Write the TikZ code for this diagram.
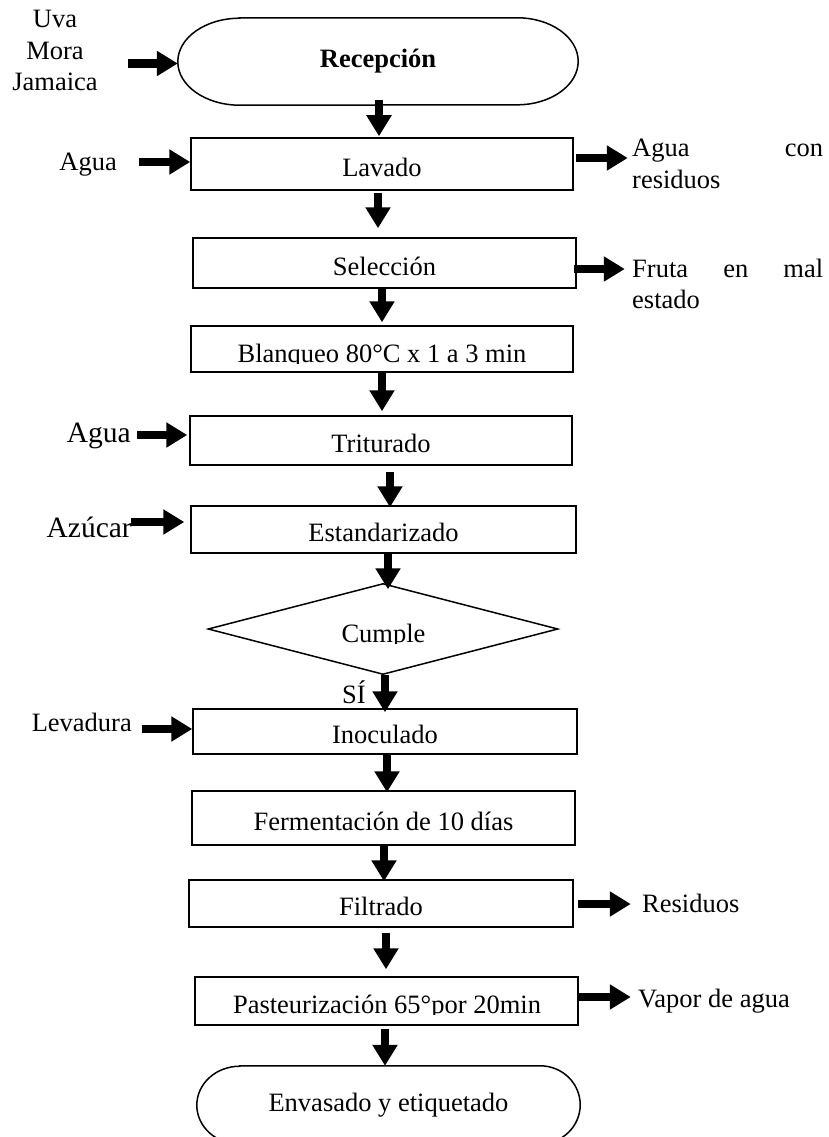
\documentclass[tikz,border=0pt]{standalone}
\usepackage{fontspec}
\setmainfont{Liberation Serif}
\usetikzlibrary{arrows.meta,shapes.geometric}
\begin{document}
\begin{tikzpicture}[x=1pt,y=-1pt,
  font=\fontsize{26.5}{31.5}\selectfont,
  box/.style 2 args={draw,line width=1.5pt,minimum width=#1,minimum height=#2,inner sep=0pt,text height=24pt,text depth=0pt},
  blk/.style={line width=8.5pt,-{Triangle[length=21pt,width=24pt]}},
  lbl/.style={inner sep=0pt},
  big/.style={font=\fontsize{29.5}{35}\selectfont}]
\useasboundingbox (0,0) rectangle (829,1137);
\clip (0,0) rectangle (829,1137);

% terminal: Recepcion
\node[minimum width=400pt,minimum height=87pt,inner sep=0pt] (recep) at (378,61.5) {\bfseries Recepción};
\draw[line width=1.5pt] ([xshift=62pt]recep.north west) -- ([xshift=-61pt]recep.north east)
  arc[start angle=90,end angle=-90,x radius=61pt,y radius=43.5pt]
  -- ([xshift=62pt]recep.south west)
  arc[start angle=270,end angle=90,x radius=62pt,y radius=43.5pt] -- cycle;

% process boxes
\node[box={382pt}{52pt}] (lav) at (382,164) {Lavado};
\node[box={383pt}{50pt}] (sel) at (384.5,263) {Selección};
\node[box={382pt}{46pt}] (bla) at (382,349) {};
\node[box={382pt}{49pt}] (tri) at (381,440.5) {Triturado};
\node[box={385pt}{47pt}] (est) at (383.5,529.5) {Estandarizado};
\node[draw,line width=1.5pt,diamond,minimum width=350pt,minimum height=91pt,inner sep=0pt] (dia) at (383,629) {};
\node[box={384pt}{45pt}] (ino) at (385,731.5) {Inoculado};
\node[box={383pt}{54pt}] (fer) at (383.5,818) {Fermentación de 10 días};
\node[box={384pt}{47pt}] (fil) at (381,903.5) {Filtrado};
\node[box={383pt}{48pt}] (pas) at (386.5,1001) {};

% texts clipped at their baseline, as printed
\begin{scope}
  \clip (0,300) rectangle (829,363);
  \node[lbl,anchor=base] (blaT) at (382,362) {Blanqueo 80°C x 1 a 3 min};
\end{scope}
\begin{scope}
  \clip (0,600) rectangle (829,643);
  \node[lbl,anchor=base] (cumT) at (383.5,642) {Cumple};
\end{scope}
\begin{scope}
  \clip (0,980) rectangle (829,1014);
  \node[lbl,anchor=base] (pasT) at (387,1013) {Pasteurización 65°por 20min};
\end{scope}

% terminal: Envasado
\node[minimum width=383pt,minimum height=78pt,inner sep=0pt] (env) at (388.5,1105) {Envasado y etiquetado};
\draw[line width=1.5pt] ([xshift=43pt]env.north west) -- ([xshift=-40pt]env.north east)
  arc[start angle=90,end angle=-90,x radius=40pt,y radius=39pt]
  -- ([xshift=43pt]env.south west)
  arc[start angle=270,end angle=90,x radius=43pt,y radius=39pt] -- cycle;

% side labels
\node[lbl,anchor=base] (uva) at (55,28) {\parbox[t]{120pt}{\centering Uva\\Mora\\Jamaica}};
\node[lbl,anchor=base east] (agua1) at (117,170) {Agua};
\node[lbl,anchor=base west] (aguacon) at (632,157) {\parbox[t]{191pt}{\tolerance=10000\hyphenpenalty=10000 Agua con residuos}};
\node[lbl,anchor=base west] (fruta) at (632,277) {\parbox[t]{191pt}{\tolerance=10000\hyphenpenalty=10000 Fruta en mal estado}};
\node[lbl,big,anchor=base east] (agua2) at (131,442) {Agua};
\node[lbl,big,anchor=base east] (azucar) at (132,537) {Azúcar};
\node[lbl,anchor=base] (si) at (354,703) {SÍ};
\node[lbl,anchor=base east] (lev) at (132,731) {Levadura};
\node[lbl,anchor=base west] (res) at (642,912) {Residuos};
\node[lbl,anchor=base west] (vap) at (638,1007) {Vapor de agua};

% main flow
\draw[blk] ([shift={(1,-5)}]recep.south) -- ([shift={(-3,-1)}]lav.north);
\draw[blk] ([shift={(-4,2)}]lav.south) -- ([shift={(-6.5,-9)}]sel.north);
\draw[blk] ([shift={(-2.5,0)}]sel.south) -- ([shift={(0,-3)}]bla.north);
\draw[blk] (bla.south) -- ([shift={(0,-4)}]bla.south |- tri.north);
\draw[blk] ([shift={(9,6)}]tri.south) -- ([shift={(6.5,2)}]est.north);
\draw[blk] ([shift={(4.5,0)}]est.south) -- ([shift={(5,6.5)}]dia.north);
\draw[blk] ([shift={(2,0)}]dia.south) -- ([shift={(0,4)}]ino.north);
\draw[blk] ([shift={(2,0)}]ino.south) -- ([shift={(3.5,2)}]fer.north);
\draw[blk] ([shift={(0.5,0)}]fer.south) -- ([shift={(3,2)}]fil.north);
\draw[blk] ([shift={(5,5)}]fil.south) -- ([shift={(-0.5,-7)}]pas.north);
\draw[blk] ([shift={(-1.5,3)}]pas.south) -- ([shift={(-3.5,0)}]env.north);

% inputs
\draw[blk] ([shift={(-50,2)}]recep.west) -- ([shift={(0,2)}]recep.west);
\draw[blk] ([shift={(-51,-2)}]lav.west) -- ([shift={(0,-2)}]lav.west);
\draw[blk] ([shift={(-52,-5.5)}]tri.west) -- ([shift={(-2,-5.5)}]tri.west);
\draw[blk] ([shift={(-59,-7.5)}]est.west) -- ([shift={(-6,-7.5)}]est.west);
\draw[blk] ([shift={(-50,-2.5)}]ino.west) -- ([shift={(0,-2.5)}]ino.west);

% outputs
\draw[blk] ([shift={(2,-6)}]lav.east) -- ([shift={(54,-6)}]lav.east);
\draw[blk] ([shift={(-3,6)}]sel.east) -- ([shift={(48,6)}]sel.east);
\draw[blk] ([shift={(4,0.5)}]fil.east) -- ([shift={(57,0.5)}]fil.east);
\draw[blk] ([shift={(-1,-4)}]pas.east) -- ([shift={(52,-4)}]pas.east);
\end{tikzpicture}
\end{document}
